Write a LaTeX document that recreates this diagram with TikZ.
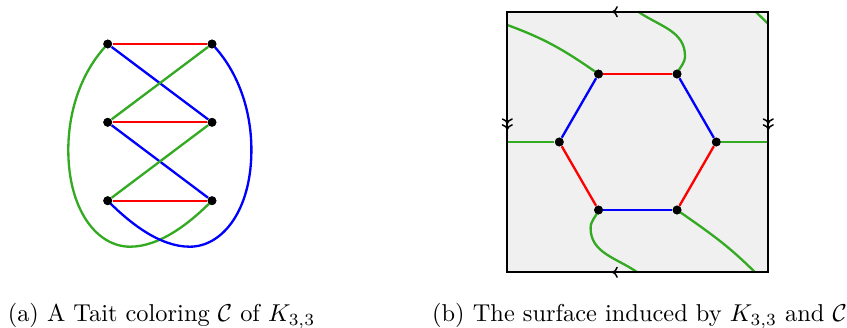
\documentclass[tikz,border=0pt]{standalone}
\usetikzlibrary{arrows.meta}
\definecolor{tgreen}{RGB}{51,170,34}
\definecolor{surf}{RGB}{240,240,240}
\begin{document}
\begin{tikzpicture}[x=0.41pt,y=0.41pt,
  vtx/.style={circle,fill=black,inner sep=0pt,minimum size=3.6pt},
  edg/.style={line width=0.95pt},
  redge/.style={edg,red},
  bedge/.style={edg,blue},
  gedge/.style={edg,tgreen},
  bord/.style={line width=0.8pt,black},
  onetip/.style={-{To[length=2.4pt,width=4.6pt]}, line width=0.6pt},
  twotip/.style={-{To[length=2.4pt,width=4.6pt]To[length=2.4pt,width=4.6pt]}, line width=0.6pt},
  captxt/.style={anchor=base west,inner sep=0pt}]
\useasboundingbox (0,0) rectangle (847,328);
% ---------- (a) ----------
\node[vtx] (TL) at (107.7,284) {};
\node[vtx] (TR) at (212,284) {};
\node[vtx] (ML) at (107.7,205.7) {};
\node[vtx] (MR) at (212,205.7) {};
\node[vtx] (BL) at (107.7,127.3) {};
\node[vtx] (BR) at (212,127.3) {};
\draw[redge] (TL) -- (TR);
\draw[redge] (ML) -- (MR);
\draw[redge] (BL) -- (BR);
\draw[bedge] (TL) -- (MR);
\draw[bedge] (ML) -- (BR);
\draw[gedge] (TR) -- (ML);
\draw[gedge] (MR) -- (BL);
\draw[gedge] (TL.center) .. controls (80,255) and (68.3,215) .. (68.3,178)
  .. controls (68.3,118) and (97,81.3) .. (130,81.3)
  .. controls (160,81.3) and (190,105) .. (BR.center);
\draw[bedge] (TR.center) .. controls (239.7,255) and (251.4,215) .. (251.4,178)
  .. controls (251.4,118) and (222.7,81.3) .. (189.7,81.3)
  .. controls (159.7,81.3) and (129.7,105) .. (BL.center);
\foreach \v in {TL,TR,ML,MR,BL,BR} \fill (\v) circle (1.8pt);
% ---------- (b) ----------
\coordinate (SW) at (507.3,55.7);
\coordinate (SE) at (768.3,55.7);
\coordinate (NE) at (768.3,316.3);
\coordinate (NW) at (507.3,316.3);
\fill[surf] (SW) rectangle (NE);
\node[vtx] (H0) at (716.3,186) {};
\node[vtx] (H1) at (677.05,254) {};
\node[vtx] (H2) at (598.55,254) {};
\node[vtx] (H3) at (559.3,186) {};
\node[vtx] (H4) at (598.55,118) {};
\node[vtx] (H5) at (677.05,118) {};
\draw[bedge] (H0) -- (H1);
\draw[redge] (H1) -- (H2);
\draw[bedge] (H2) -- (H3);
\draw[redge] (H3) -- (H4);
\draw[bedge] (H4) -- (H5);
\draw[redge] (H5) -- (H0);
\coordinate (gR) at (768.3,186);
\coordinate (gL) at (507.3,186);
\coordinate (gLt) at (507.3,303);
\coordinate (gRt) at (768.3,304);
\coordinate (gTc) at (755.7,316.3);
\coordinate (gBc) at (755,55.7);
\coordinate (gT) at (638.3,316.3);
\coordinate (gB) at (637.3,55.7);
\draw[gedge] (H0) -- (gR);
\draw[gedge] (H3) -- (gL);
\draw[gedge] (H2.center) to[out=145,in=-20] (gLt);
\draw[gedge] (H5.center) to[out=-35,in=135] (gBc);
\draw[gedge] (gTc) -- (gRt);
\draw[gedge] (H1.center) to[out=70,in=-90] (685,272) to[out=90,in=-35] (gT);
\draw[gedge] (H4.center) to[out=250,in=90] (590.6,100) to[out=270,in=145] (gB);
\foreach \v in {H0,H1,H2,H3,H4,H5} \fill (\v) circle (1.8pt);
\draw[bord] (SW) -- (SE) -- (NE) -- (NW) -- cycle;
\coordinate (at1) at (618,316.3);
\coordinate (at2) at (612,316.3);
\coordinate (ab1) at (618,55.7);
\coordinate (ab2) at (612,55.7);
\draw[onetip] (at1) -- (at2);
\draw[onetip] (ab1) -- (ab2);
\coordinate (al1) at (507.3,214);
\coordinate (al2) at (507.3,198);
\coordinate (ar1) at (768.3,214);
\coordinate (ar2) at (768.3,198);
\draw[twotip] (al1) -- (al2);
\draw[twotip] (ar1) -- (ar2);
% ---------- captions ----------
\node[captxt] (capa) at (7.3,6.5) {(a) A Tait coloring $\mathcal{C}$ of $K_{3,3}$};
\node[captxt] (capb) at (431.7,6.5) {(b) The surface induced by $K_{3,3}$ and $\mathcal{C}$};
\end{tikzpicture}
\end{document}
